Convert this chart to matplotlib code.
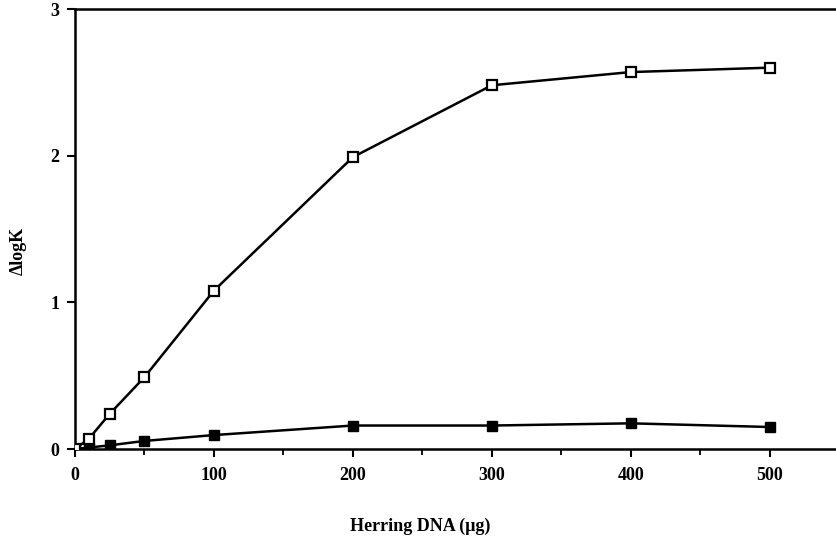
import matplotlib.pyplot as plt
from matplotlib.ticker import MultipleLocator

# Herring DNA added (ug) and the resulting shift in log K
dna = [0, 10, 25, 50, 100, 200, 300, 400, 500]
open_series = [0.0, 0.07, 0.24, 0.49, 1.08, 1.99, 2.48, 2.57, 2.60]
filled_series = [0.0, 0.01, 0.025, 0.055, 0.095, 0.16, 0.16, 0.175, 0.15]

plt.rcParams['font.family'] = 'Liberation Serif'
plt.rcParams['font.weight'] = 'bold'

fig = plt.figure(figsize=(8.37, 5.39), dpi=100)
ax = fig.add_axes([75 / 837, 1 - 449 / 539, 760 / 837, 440 / 539])

ax.plot(dna, filled_series, color='black', lw=1.8, marker='s', ms=7,
        mfc='black', mec='black', zorder=3)
ax.plot(dna, open_series, color='black', lw=1.8, marker='s', ms=6.5,
        mfc='white', mec='black', mew=1.6, zorder=4)

ax.set_xlim(0, 547)
ax.set_ylim(0, 3)
ax.xaxis.set_major_locator(MultipleLocator(100))
ax.xaxis.set_minor_locator(MultipleLocator(50))
ax.yaxis.set_major_locator(MultipleLocator(1))

ax.spines['right'].set_visible(False)
for s in ['left', 'bottom', 'top']:
    ax.spines[s].set_linewidth(1.8)

ax.tick_params(axis='x', which='major', direction='out', length=6, width=1.5,
               labelsize=13, pad=7)
ax.tick_params(axis='x', which='minor', direction='out', length=4, width=1.3)
ax.tick_params(axis='y', which='major', direction='out', length=6, width=1.5,
               labelsize=13, pad=5)
for lbl in ax.get_xticklabels() + ax.get_yticklabels():
    lbl.set_fontweight('bold')

ax.set_xlabel('Herring DNA (μg)', fontsize=13, fontweight='bold')
ax.xaxis.set_label_coords(345 / 760, -0.155)
ax.set_ylabel('ΔlogK', fontsize=13, fontweight='bold')
ax.yaxis.set_label_coords(-48 / 760, 0.45)

fig.savefig('out.png', dpi=100)
